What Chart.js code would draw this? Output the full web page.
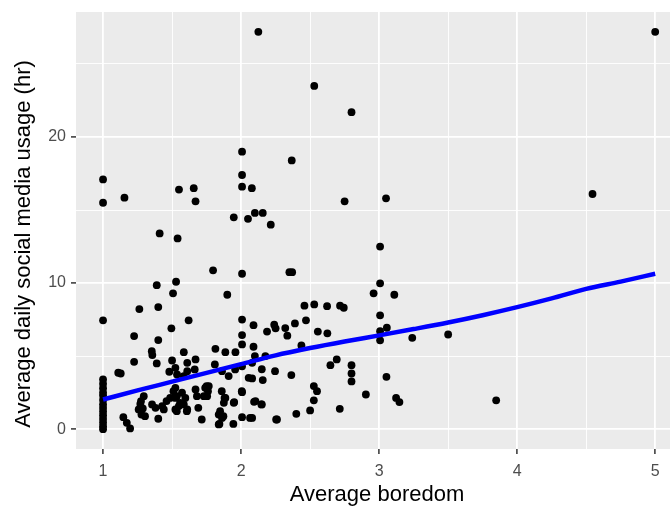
<!DOCTYPE html>
<html>
<head>
<meta charset="utf-8">
<style>
  html, body { margin: 0; padding: 0; background: #fff; overflow: hidden; width: 670px; height: 506px; }
  #chart { display: block; }
</style>
<script src="https://cdn.jsdelivr.net/npm/chart.js"></script>
</head>
<body>
<canvas id="chart" width="674" height="506"></canvas>
<script>
// boredom score (x) and daily social media hours (y)
const boredom = [
  2.125, 5.0, 2.53, 2.8, 2.007, 2.367, 1.0, 2.007, 2.007, 2.078, 1.55, 1.657, 1.0, 1.155, 1.67,
  2.75, 3.05, 4.546, 1.947, 2.05, 2.1, 2.157, 2.215, 1.41, 1.54, 3.007, 1.797, 2.007, 2.35, 2.37,
  1.389, 1.529, 1.507, 1.9, 3.007, 2.96, 3.11, 3.848,
  1.0, 1.263, 1.4, 1.495, 1.225, 1.4, 1.62, 2.007, 2.09, 2.007, 2.188, 2.24, 2.25, 2.32, 2.335,
  2.39, 2.47, 2.459, 2.53, 2.623, 2.717, 2.744, 2.556, 2.625, 2.437, 3.007, 3.007, 3.056, 3.007,
  3.24, 3.5, 2.007, 2.09, 1.814, 1.886, 1.959, 1.585, 1.353, 1.357, 2.1, 2.176,
  1.225, 1.389, 1.5, 1.48, 1.11, 1.128, 1.524, 1.61, 1.67, 1.61, 1.664, 1.585, 1.536, 1.81, 1.862,
  1.91, 2.007, 2.055, 1.957, 2.15, 2.157, 2.246, 2.364, 2.08, 2.08, 2.647, 2.693, 2.8, 2.8, 2.8, 3.053,
  2.005, 2.094, 2.15, 2.007, 2.065, 2.254, 1.848, 1.872, 1.843, 1.944, 1.95, 1.88, 1.86, 1.75, 1.76,
  1.69, 1.715, 1.275, 1.288, 1.304, 1.147, 1.172, 1.196, 1.4, 1.295, 1.27, 1.258, 1.278, 1.355,
  1.38, 1.428, 1.44, 1.524, 1.572, 1.596, 1.524, 1.549, 1.61, 1.524, 1.585, 1.67, 1.74, 1.766,
  1.68, 1.73, 1.754, 1.886, 1.875, 1.947, 2.007, 1.838, 1.862, 1.838, 2.527, 2.55, 2.527, 2.5,
  2.104, 2.147, 2.08, 2.26, 2.4, 2.904, 3.123, 3.147, 2.715, 1.486, 1.46, 1.51, 1.534, 1.558,
  1.607, 1.534,
  1.0, 1.0, 1.0, 1.0, 1.0, 1.0, 1.0, 1.0, 1.0, 1.0, 1.0, 1.0, 1.0, 1.0
];
const socialHours = [
  27.2, 27.2, 23.5, 21.7, 19.0, 18.4, 17.1, 17.4, 16.6, 16.5, 16.4, 16.5, 15.5, 15.85, 15.6,
  15.6, 15.8, 16.1, 14.5, 14.4, 14.8, 14.8, 14.0, 13.4, 13.06, 12.5, 10.87, 10.64, 10.75, 10.75,
  9.86, 10.09, 9.3, 9.2, 9.98, 9.3, 9.2, 1.97,
  7.45, 8.22, 8.36, 6.9, 6.37, 6.1, 7.45, 7.5, 7.12, 6.44, 6.68, 7.15, 6.9, 6.92, 6.4,
  7.24, 7.45, 8.45, 8.54, 8.42, 8.45, 8.31, 6.68, 6.56, 5.73, 7.79, 6.71, 6.94, 6.08,
  6.25, 6.48, 5.8, 5.64, 5.5, 5.27, 5.27, 5.27, 5.34, 5.07, 5.0, 5.0,
  4.61, 4.5, 4.7, 3.93, 3.86, 3.81, 4.2, 4.54, 4.77, 3.97, 4.09, 3.63, 3.74, 4.43, 3.97,
  3.63, 4.3, 3.51, 4.09, 4.1, 3.36, 3.97, 3.7, 4.54, 3.47, 4.38, 4.77, 4.38, 3.81, 3.27, 3.58,
  2.6, 1.87, 1.69, 0.82, 0.77, 0.66, 1.23, 0.89, 0.36, 0.36, 1.85, 2.14, 2.6, 2.95, 2.6,
  1.46, 0.66, 1.92, 1.42, 0.89, 0.82, 0.43, 0.05, 0.71, 2.26, 1.73, 1.35, 1.0, 1.69,
  1.46, 1.58, 1.35, 2.83, 2.49, 2.14, 2.14, 1.58, 1.35, 1.35, 1.69, 2.72, 2.83, 2.95,
  2.26, 2.26, 2.26, 2.14, 1.8, 1.8, 2.53, 1.0, 0.77, 0.32, 2.95, 2.6, 1.97, 1.28,
  1.92, 1.69, 0.77, 0.66, 1.05, 2.37, 2.14, 1.85, 1.39, 2.14, 1.92, 2.6, 2.26, 1.8,
  1.23, 1.23,
  0.0, 0.2, 0.45, 0.7, 0.95, 1.2, 1.45, 1.7, 2.0, 2.3, 2.5, 2.8, 3.1, 3.4
];

// smoothed trend line
const trendX = [1, 1.25, 1.5, 1.75, 2, 2.25, 2.5, 2.75, 3, 3.25, 3.5, 3.75, 4, 4.25, 4.5, 4.75, 5];
const trendY = [2.03, 2.65, 3.25, 3.85, 4.45, 5.05, 5.55, 6.0, 6.42, 6.85, 7.3, 7.8, 8.35, 8.95, 9.6, 10.1, 10.64];

const xLabels = [1, 2, 3, 4, 5];
const yLabels = [0, 10, 20];
const xTitle = "Average boredom";
const yTitle = "Average daily social media usage (hr)";

const points = boredom.map((x, i) => ({ x: x, y: socialHours[i] }));
const trend = trendX.map((x, i) => ({ x: x, y: trendY[i] }));

const FONT = "'Liberation Sans', Arial, sans-serif";

const panelBg = {
  id: "panelBg",
  beforeDraw(chart) {
    const { ctx, chartArea: a } = chart;
    ctx.save();
    ctx.fillStyle = "#EBEBEB";
    ctx.fillRect(a.left, a.top, a.right - a.left, a.bottom - a.top);
    ctx.restore();
  },
};

// axis titles placed like the ggplot original (plot is cropped on the right)
const axisTitles = {
  id: "axisTitles",
  afterDraw(chart) {
    const { ctx } = chart;
    ctx.save();
    ctx.fillStyle = "#000000";
    ctx.font = "22px " + FONT;
    ctx.textAlign = "center";
    ctx.textBaseline = "middle";
    ctx.fillText(xTitle, 377, 495);
    ctx.translate(24, 244);
    ctx.rotate(-Math.PI / 2);
    ctx.fillText(yTitle, 0, 0);
    ctx.restore();
  },
};

const isMajor = (v, list) => list.some(t => Math.abs(t - v) < 1e-6);
const noPad = s => {
  s.paddingTop = 0; s.paddingBottom = 0; s.paddingLeft = 0; s.paddingRight = 0;
};

new Chart(document.getElementById("chart"), {
  type: "scatter",
  data: {
    datasets: [
      {
        type: "line",
        data: trend,
        borderColor: "#0000FF",
        borderWidth: 4.5,
        pointRadius: 0,
        fill: false,
        cubicInterpolationMode: "monotone",
      },
      {
        data: points,
        backgroundColor: "#000000",
        borderColor: "#000000",
        borderWidth: 0,
        pointRadius: 3.9,
        pointHoverRadius: 3.9,
      },
    ],
  },
  plugins: [panelBg, axisTitles],
  options: {
    responsive: false,
    animation: false,
    layout: { padding: { top: 12, left: 0, right: 0, bottom: 0 } },
    plugins: {
      legend: { display: false },
      tooltip: { enabled: false },
    },
    scales: {
      x: {
        type: "linear",
        min: 0.804,
        max: 5.108,
        border: { display: false },
        afterFit: s => { s.height = 57; noPad(s); },
        grid: {
          color: "#FFFFFF",
          lineWidth: c => (isMajor(c.tick.value, xLabels) ? 1.8 : 0.9),
          tickColor: c => (isMajor(c.tick.value, xLabels) ? "#333333" : "rgba(0,0,0,0)"),
          tickLength: 5,
          tickWidth: 1.5,
        },
        ticks: {
          stepSize: 0.5,
          includeBounds: false,
          autoSkip: false,
          maxRotation: 0,
          padding: 8,
          color: "#4D4D4D",
          font: { family: FONT, size: 16 },
          callback: v => (isMajor(v, xLabels) ? String(v) : ""),
        },
      },
      y: {
        type: "linear",
        min: -1.36,
        max: 28.56,
        border: { display: false },
        afterFit: s => { s.width = 76; noPad(s); },
        grid: {
          color: "#FFFFFF",
          lineWidth: c => (isMajor(c.tick.value, yLabels) ? 1.8 : 0.9),
          tickColor: c => (isMajor(c.tick.value, yLabels) ? "#333333" : "rgba(0,0,0,0)"),
          tickLength: 5,
          tickWidth: 1.5,
        },
        ticks: {
          stepSize: 5,
          includeBounds: false,
          autoSkip: false,
          padding: 5,
          color: "#4D4D4D",
          font: { family: FONT, size: 16 },
          callback: v => (isMajor(v, yLabels) ? String(v) : ""),
        },
      },
    },
  },
});
</script>
</body>
</html>
